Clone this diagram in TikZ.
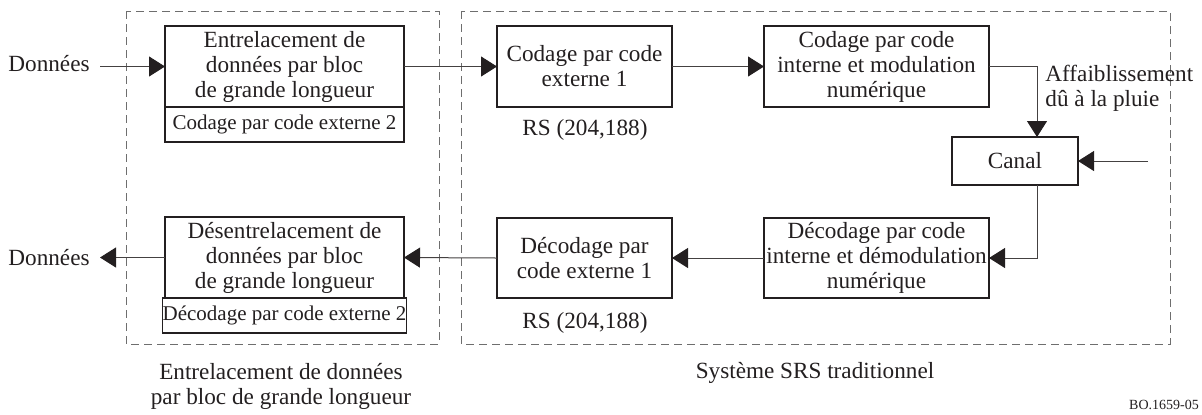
\documentclass[tikz,border=0pt]{standalone}
\usepackage{fontspec}
\setmainfont{Liberation Serif}
\usetikzlibrary{arrows.meta}
\definecolor{ink}{RGB}{35,31,32}
\definecolor{dashgray}{RGB}{110,110,110}
\tikzset{
  box/.style={draw=ink, line width=0.65pt, inner sep=0pt, outer sep=0pt, align=center, text=ink,
    font=\fontsize{11.6}{12.5}\selectfont},
  subbox/.style={draw=ink, line width=0.65pt, inner sep=0pt, outer sep=0pt, align=center, text=ink,
    font=\fontsize{10.5}{12}\selectfont},
  lbl/.style={inner sep=0pt, align=center, text=ink, font=\fontsize{11.6}{12.5}\selectfont},
  conn/.style={draw=ink!85, line width=0.5pt},
  arr/.style={conn, -{Triangle[length=8pt,width=10pt,fill=ink,color=ink]}},
  dashbox/.style={draw=dashgray, line width=0.5pt, dash pattern=on 4pt off 2.5pt}
}
\begin{document}
\begin{tikzpicture}[x=0.5pt,y=-0.5pt]
\useasboundingbox (0,0) rectangle (1202,414);
% dashed groups
\draw[dashbox] (126,11) rectangle (439,344);
\draw[dashbox] (461,11) rectangle (1170,344);
% top row
\node[box, minimum width=119.5pt, minimum height=40.5pt] (Atop) at (284.5,66.5)
  {Entrelacement de\\donn\'ees par bloc\\de grande longueur};
\node[subbox, minimum width=119.5pt, minimum height=17.5pt] (Asub) at (284.5,124.5)
  {Codage par code externe 2};
\node[box, minimum width=87.5pt, minimum height=40.5pt] (B) at (584.5,66.5)
  {Codage par code\\externe 1};
\node[box, minimum width=112.5pt, minimum height=40.5pt] (C) at (876.5,66.5)
  {Codage par code\\interne et modulation\\num\'erique};
\node[box, minimum width=63pt, minimum height=24pt] (Canal) at (1015,161) {Canal};
% bottom row
\node[box, minimum width=112.5pt, minimum height=40pt] (D) at (876.5,258)
  {D\'ecodage par code\\interne et d\'emodulation\\num\'erique};
\node[box, minimum width=87.5pt, minimum height=40pt] (E) at (584.5,258)
  {D\'ecodage par\\code externe 1};
\node[box, minimum width=119.5pt, minimum height=40.5pt] (Ftop) at (284.5,257.5)
  {D\'esentrelacement de\\donn\'ees par bloc\\de grande longueur};
\node[subbox, minimum width=119.5pt, minimum height=17.5pt] (Fsub) at (284.5,315.5)
  {D\'ecodage par code externe 2};
% labels
\node[lbl, anchor=west] (din) at (8,64) {Donn\'ees};
\node[lbl, anchor=west] (dout) at (8,258) {Donn\'ees};
\node[lbl] (rs1) at (585,130) {RS (204,188)};
\node[lbl] (rs2) at (585,323) {RS (204,188)};
\node[lbl, anchor=west, align=left] (rain) at (1045,88) {Affaiblissement\\d\^u \`a la pluie};
\node[lbl] (g1) at (281,386) {Entrelacement de donn\'ees\\par bloc de grande longueur};
\node[lbl] (g2) at (815,373) {Syst\`eme SRS traditionnel};
\node[inner sep=0pt, text=ink, font=\fontsize{7}{8}\selectfont] (ref) at (1164,405) {BO.1659-05};
% connectors
\coordinate (inL) at (100,66.5);
\coordinate (outL) at (100,257.5);
\coordinate (k1) at (1037,66.5);
\coordinate (k2) at (1037,258);
\coordinate (rainin) at (1148,161);
\draw[arr] (inL) -- (Atop.west);
\draw[arr] (Atop.east) -- (B.west);
\draw[arr] (B.east) -- (C.west);
\draw[arr] (C.east) -- (k1) -- (k1 |- Canal.north);
\draw[arr] (rainin) -- (Canal.east);
\draw[arr] (k1 |- Canal.south) -- (k2) -- (D.east);
\draw[arr] (D.west) -- (E.east);
\draw[arr] (E.west) -- (Ftop.east);
\draw[arr] (Ftop.west) -- (outL);
\end{tikzpicture}
\end{document}
